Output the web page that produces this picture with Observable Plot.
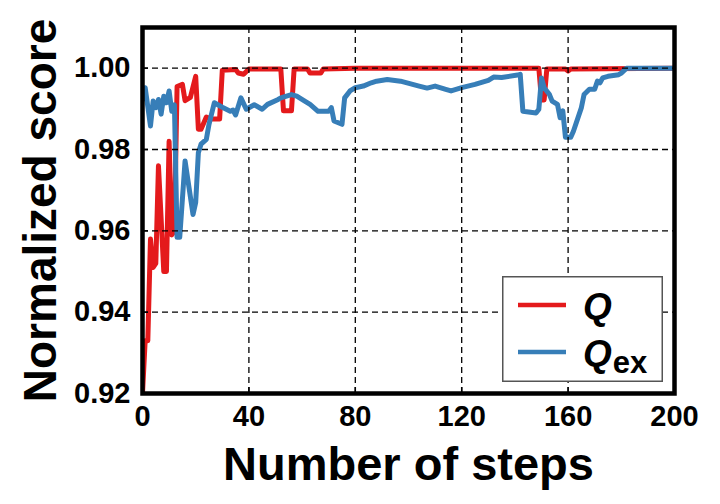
<!DOCTYPE html>
<html>
<head>
<meta charset="utf-8">
<script src="https://cdn.jsdelivr.net/npm/d3@7"></script>
<script src="https://cdn.jsdelivr.net/npm/@observablehq/plot@0.6"></script>
<style>
  body { margin: 0; background: white; }
  #wrap { position: relative; width: 720px; height: 504px; }
  #legend { position: absolute; left: 502px; top: 276px; }
</style>
</head>
<body>
<div id="wrap"></div>
<script>
// ---- data ----
const qSteps = [0,1,2,3,4,5,6,8,9,10,11,12,13,15,16,18,20,21,22,24,26,29,30,35,36,38,40,52,53,56,57,62,63,67,68,80,149,150,151,152,159,160,161,200];
const qValues = [0.920,0.933,0.933,0.958,0.951,0.952,0.976,0.950,0.950,0.982,0.959,0.960,0.9955,0.996,0.992,0.9928,0.998,0.985,0.985,0.988,0.9875,0.9875,0.9995,0.9997,0.9988,0.9985,0.9998,0.9998,0.9895,0.9895,0.9998,0.9998,0.9988,0.9988,0.9998,1.0,1.0,0.9922,0.9922,0.9998,0.9998,0.9993,0.9998,1.0];

const qexSteps = [0,1,3,4,5,6,7,8,9,10,11,12,13,14,16,19,20,21,22,24,25,27,30,33,34,35,37,39,42,45,47,51,52,56,58,61,63,66,70,71,72,75,76,78,80,83,86,88,92,97,104,107,110,114,116,120,125,130,132,135,141,142,143,148,149,150,151,153,154,156,157,158,159,161,162,165,166,168,170,171,172,173,175,179,180,182,200];
const qexValues = [0.9923,0.9952,0.9858,0.9919,0.9903,0.9923,0.9887,0.9931,0.9915,0.9944,0.9894,0.9910,0.9584,0.9584,0.9772,0.9640,0.9670,0.9792,0.9813,0.9825,0.9862,0.9915,0.9904,0.9894,0.9897,0.9885,0.9927,0.9899,0.9910,0.9899,0.9911,0.9923,0.9927,0.9935,0.9931,0.9919,0.9911,0.9894,0.9894,0.9903,0.9870,0.9862,0.9927,0.9944,0.9952,0.9956,0.9964,0.9968,0.9972,0.9968,0.9956,0.9951,0.9956,0.9948,0.9944,0.9952,0.9960,0.9970,0.9978,0.9977,0.9983,0.9985,0.9894,0.9890,0.9899,0.9976,0.9952,0.9935,0.9919,0.9911,0.9878,0.9895,0.9830,0.9830,0.9845,0.9903,0.9935,0.9948,0.9948,0.9968,0.9964,0.9976,0.9980,0.9984,0.9988,1.0,1.0];

const xTicks = [0,40,80,120,160,200];
const yTicks = [0.92,0.94,0.96,0.98,1.00];
const seriesNames = ["Q", "Q_ex"];
const xLabel = "Number of steps";
const yLabel = "Normalized score";

const RED = "#e41a1c", BLUE = "#377eb8";

const qData = qSteps.map((s, i) => ({step: s, value: qValues[i]}));
const qexData = qexSteps.map((s, i) => ({step: s, value: qexValues[i]}));

const gridStyle = {stroke: "black", strokeOpacity: 1, strokeWidth: 1.3, strokeDasharray: "6,4"};

const chart = Plot.plot({
  width: 720,
  height: 504,
  marginLeft: 142,
  marginRight: 46,
  marginTop: 27,
  marginBottom: 111,
  x: {domain: [0, 200]},
  y: {domain: [0.92, 1.01]},
  style: {fontFamily: "'Liberation Sans', Arial, sans-serif", fontWeight: "bold", color: "black", background: "white", overflow: "visible"},
  marks: [
    Plot.line(qData, {x: "step", y: "value", stroke: RED, strokeWidth: 5, strokeLinejoin: "round", clip: true}),
    Plot.line(qexData, {x: "step", y: "value", stroke: BLUE, strokeWidth: 5, strokeLinejoin: "round", clip: true}),
    Plot.gridX(xTicks.slice(1, -1), gridStyle),
    Plot.gridY(yTicks.slice(1), gridStyle),
    Plot.axisX(xTicks, {tickSize: 0, tickPadding: 12, fontSize: 29, fontWeight: "bold", label: null}),
    Plot.axisX(xTicks, {tickSize: -6, tickFormat: () => "", strokeWidth: 1.5, label: null}),
    Plot.axisY(yTicks, {tickSize: 0, tickPadding: 12, fontSize: 29, fontWeight: "bold", tickFormat: d3.format(".2f"), label: null}),
    Plot.axisY(yTicks, {tickSize: -6, tickFormat: () => "", strokeWidth: 1.5, label: null}),
    Plot.frame({stroke: "black", strokeWidth: 4.5}),
    Plot.text([xLabel], {frameAnchor: "bottom", dy: 86, lineAnchor: "bottom", fontSize: 47, fontWeight: "bold", fill: "black"}),
    Plot.text([yLabel], {frameAnchor: "left", dx: -87, rotate: -90, textAnchor: "middle", lineAnchor: "bottom", fontSize: 46, fontWeight: "bold", fill: "black"})
  ]
});
document.getElementById("wrap").appendChild(chart);

// legend
const lg = d3.select("#wrap").append("svg")
  .attr("id", "legend").attr("width", 162).attr("height", 107)
  .style("font-family", "'Liberation Sans', Arial, sans-serif");
lg.append("rect").attr("x", 0.75).attr("y", 0.75).attr("width", 159.5).attr("height", 104.5)
  .attr("fill", "white").attr("stroke", "#555").attr("stroke-width", 1.5);
const rows = [{name: seriesNames[0], color: RED, ly: 29, ty: 43}, {name: seriesNames[1], color: BLUE, ly: 76, ty: 90}];
rows.forEach(r => {
  lg.append("line").attr("x1", 16).attr("x2", 64).attr("y1", r.ly).attr("y2", r.ly)
    .attr("stroke", r.color).attr("stroke-width", 4.5);
  const [main, sub] = r.name.split("_");
  const t = lg.append("text").attr("x", 81).attr("y", r.ty)
    .attr("font-size", 37).attr("font-weight", "bold").attr("fill", "black");
  t.append("tspan").attr("font-style", "italic").text(main);
  if (sub) t.append("tspan").attr("font-size", 31).attr("dy", 7).attr("dx", 1).text(sub);
});
</script>
</body>
</html>
